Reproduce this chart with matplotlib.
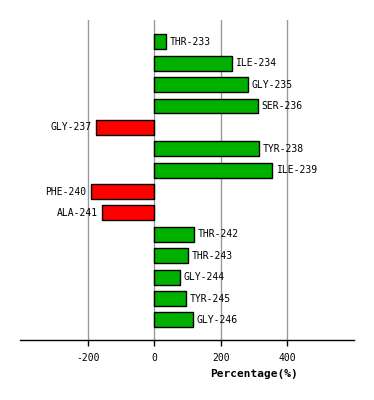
import matplotlib
matplotlib.use("Agg")
import matplotlib.pyplot as plt

residues = ["THR-233", "ILE-234", "GLY-235", "SER-236", "GLY-237", "TYR-238", "ILE-239",
            "PHE-240", "ALA-241", "THR-242", "THR-243", "GLY-244", "TYR-245", "GLY-246"]
percent = [34, 232, 280, 310, -175, 313, 355, -192, -157, 118, 100, 76, 94, 115]
xticks = [-200, 0, 200, 400]

fig = plt.figure(figsize=(3.74, 4.0), dpi=100)
ax = fig.add_axes([20 / 374, 60 / 400, 334 / 374, 320 / 400])

colors = ["#00B000" if v >= 0 else "#FF0000" for v in percent]
ypos = list(range(len(residues)))
ax.barh(ypos, percent, height=0.7, color=colors, edgecolor="black", linewidth=1, zorder=3)

for y, v, name in zip(ypos, percent, residues):
    if v >= 0:
        ax.annotate(name, (v, y), xytext=(3, 0), textcoords="offset points",
                    ha="left", va="center", fontsize=7, family="DejaVu Sans Mono")
    else:
        ax.annotate(name, (v, y), xytext=(-3, 0), textcoords="offset points",
                    ha="right", va="center", fontsize=7, family="DejaVu Sans Mono")

ax.set_xlim(-404, 600)
ax.set_ylim(13.94, -1.02)
ax.set_xticks(xticks)
ax.set_xticklabels([str(t) for t in xticks], fontsize=7, family="DejaVu Sans Mono")
ax.set_yticks([])
ax.tick_params(axis="x", length=4.5, width=1, pad=5)
ax.grid(axis="x", color="#999999", linewidth=1, zorder=0)
for s in ["left", "right", "top"]:
    ax.spines[s].set_visible(False)
ax.spines["bottom"].set_linewidth(1)

ax.set_xlabel("Percentage(%)", fontsize=8, fontweight="bold", family="DejaVu Sans Mono")
ax.xaxis.set_label_coords(0.70, -0.09)

fig.savefig("out.png", dpi=100)
